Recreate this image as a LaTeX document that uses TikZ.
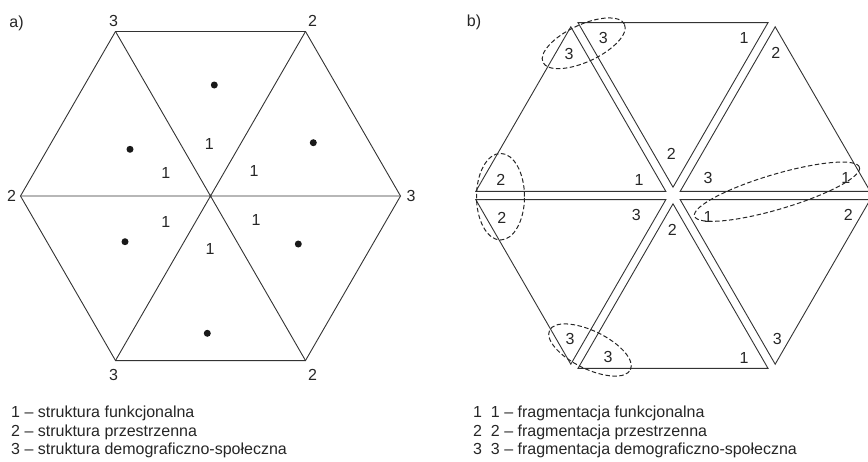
\documentclass[tikz,border=0pt]{standalone}
\usepackage{fontspec}
\setmainfont{Liberation Sans}
\usetikzlibrary{calc}
\begin{document}
\begin{tikzpicture}[x=1pt,y=1pt,
  edge/.style={draw=black!80,line width=0.9pt,line join=miter},
  lbl/.style={inner sep=0pt,font=\fontsize{16}{16}\selectfont,text=black!85},
  leg/.style={inner sep=0pt,anchor=west,font=\fontsize{16}{16}\selectfont,text=black!85},
  dot/.style={circle,fill=black!90,inner sep=0pt,minimum size=7pt},
  oval/.style={draw=black!85,line width=1pt,dash pattern=on 4.5pt off 2.5pt}]
\useasboundingbox (0,0) rectangle (868,-461);
% ---------- a) ----------
\node[lbl] (la) at (16.5,-23) {a)};
\coordinate (O) at (210.5,-196);
\foreach \k in {0,...,5}{\coordinate (V\k) at ($(O)+(60*\k:190)$);}
\draw[edge] (V0) -- (V1) -- (V2) -- (V3) -- (V4) -- (V5) -- cycle;
\draw[edge] (V0) -- (V3) (V1) -- (V4) (V2) -- (V5);
\node[lbl] (a3tl) at (113.5,-21) {3};
\node[lbl] (a2tr) at (312.5,-21) {2};
\node[lbl] (a3r) at (411,-196) {3};
\node[lbl] (a2l) at (11.5,-196) {2};
\node[lbl] (a3bl) at (113.5,-375) {3};
\node[lbl] (a2br) at (312.5,-375) {2};
\node[dot] (d1) at (214.3,-85) {};
\node[dot] (d2) at (313.3,-142.7) {};
\node[dot] (d3) at (130,-149.3) {};
\node[dot] (d4) at (125,-241.7) {};
\node[dot] (d5) at (298.3,-244) {};
\node[dot] (d6) at (207.3,-333.3) {};
\node[lbl] (o1) at (209.3,-144) {1};
\node[lbl] (o2) at (165.7,-173.3) {1};
\node[lbl] (o3) at (254,-171) {1};
\node[lbl] (o4) at (165.7,-221.7) {1};
\node[lbl] (o5) at (256,-220) {1};
\node[lbl] (o6) at (210,-249.3) {1};
% ---------- b) ----------
\node[lbl] (lb) at (474,-22) {b)};
\coordinate (C) at (673,-195.5);
\foreach \k in {0,...,5}{
  \draw[edge] ($(C)+(60*\k+30:8.3)$) -- ++(60*\k:190) -- ++(60*\k+120:190) -- cycle;
}
\node[lbl] (b1) at (569,-54) {3};
\node[lbl] (b2) at (603.3,-37.7) {3};
\node[lbl] (b3) at (744,-38.3) {1};
\node[lbl] (b4) at (775.7,-53.3) {2};
\node[lbl] (b5) at (671.3,-154) {2};
\node[lbl] (b6) at (500.7,-180) {2};
\node[lbl] (b7) at (639,-180) {1};
\node[lbl] (b8) at (708,-177.7) {3};
\node[lbl] (b9) at (845.7,-177.7) {1};
\node[lbl] (b10) at (501.7,-218.3) {2};
\node[lbl] (b11) at (636.3,-215) {3};
\node[lbl] (b12) at (672.3,-230) {2};
\node[lbl] (b13) at (708,-217.3) {1};
\node[lbl] (b14) at (848.3,-215) {2};
\node[lbl] (b15) at (570,-339.3) {3};
\node[lbl] (b16) at (608,-357.3) {3};
\node[lbl] (b17) at (744,-357.7) {1};
\node[lbl] (b18) at (777.3,-339.3) {3};
\draw[oval] (583.7,-43.3) ellipse[x radius=45, y radius=18.5, rotate=25];
\draw[oval] (500.5,-196.7) ellipse[x radius=24, y radius=43.3];
\draw[oval] (777,-191.7) ellipse[x radius=86, y radius=17.5, rotate=16.5];
\draw[oval] (590,-350) ellipse[x radius=45, y radius=19, rotate=-26];
% ---------- legends ----------
\node[leg] (L1) at (11,-413.5) {1 – struktura funkcjonalna};
\node[leg] (L2) at (11,-432) {2 – struktura przestrzenna};
\node[leg] (L3) at (11,-450) {3 – struktura demograficzno-społeczna};
\node[leg] (R1) at (473,-413.5) {1\ \ 1 – fragmentacja funkcjonalna};
\node[leg] (R2) at (473,-432) {2\ \ 2 – fragmentacja przestrzenna};
\node[leg] (R3) at (473,-450) {3\ \ 3 – fragmentacja demograficzno-społeczna};
\end{tikzpicture}
\end{document}
